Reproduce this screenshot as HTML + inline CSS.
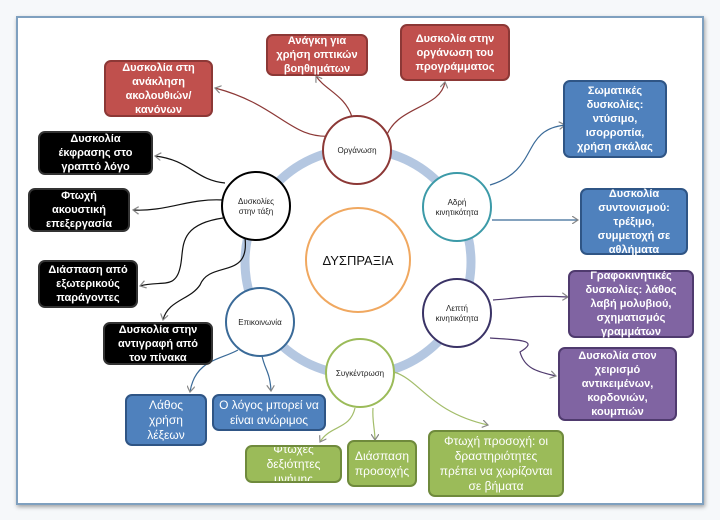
<!DOCTYPE html>
<html><head><meta charset="utf-8"><style>
html,body{margin:0;padding:0;background:#f6f8fa;width:720px;height:520px;overflow:hidden}
.frame{position:absolute;left:16px;top:16px;width:684px;height:485px;background:#fff;border:2px solid #7fa0bf;box-shadow:1px 2px 4px rgba(0,0,0,.35)}
.b{position:absolute;box-sizing:border-box;border-radius:7px;color:#fff;font:bold 11px/14px "Liberation Sans","DejaVu Sans",sans-serif;display:flex;align-items:center;justify-content:center;text-align:center;padding:2px 5px;border:2px solid}
.r{background:#c0504d;border-color:#8c3836}
.u{background:#4f81bd;border-color:#2f5585}
.p{background:#8064a2;border-color:#4f3a6e}
.g{background:#9bbb59;border-color:#6f8a3c;font-weight:normal;font-size:12px;line-height:15px}
.k{background:#000;border-color:#333}
.n{font-weight:normal;font-size:12px;line-height:15px}
svg{position:absolute;left:0;top:0}
.t{font-family:"Liberation Sans","DejaVu Sans",sans-serif;font-size:8px;fill:#222;text-anchor:middle}
</style></head><body>
<div class="frame"></div>
<svg width="720" height="520">
<defs><marker id="a" markerWidth="8" markerHeight="8" refX="6" refY="4" orient="auto" markerUnits="userSpaceOnUse"><path d="M0,0 L6,4 L0,8" fill="none" stroke="#888" stroke-width="1.2"/></marker></defs>
<circle cx="358" cy="262" r="113" fill="none" stroke="#b4c7e1" stroke-width="9"/>
<g fill="none" stroke-width="1.2" marker-end="url(#a)">
<path d="M333,136 C290,140 280,105 215,88" stroke="#8c3836"/>
<path d="M352,117 C345,95 325,90 316,76" stroke="#8c3836"/>
<path d="M385,140 C395,105 440,110 445,82" stroke="#8c3836"/>
<path d="M490,185 C540,170 520,130 565,125" stroke="#3a6a98"/>
<path d="M492,220 L578,220" stroke="#3a6a98"/>
<path d="M493,300 C520,298 530,295 568,297" stroke="#4f3a6e"/>
<path d="M490,338 C520,340 540,340 520,352 C525,370 540,372 556,376" stroke="#4f3a6e"/>
<path d="M394,372 C420,380 430,412 488,425" stroke="#a3bd6a"/>
<path d="M373,408 C372,420 375,430 375,440" stroke="#a3bd6a"/>
<path d="M355,408 C350,430 330,425 320,442" stroke="#a3bd6a"/>
<path d="M262,356 C265,370 270,372 271,391" stroke="#3a6a98"/>
<path d="M238,350 C220,360 195,360 190,392" stroke="#3a6a98"/>
<path d="M225,183 C195,180 190,160 155,156" stroke="#111"/>
<path d="M223,200 C190,198 165,212 133,210" stroke="#111"/>
<path d="M223,218 C175,225 185,250 180,268 C175,290 160,280 140,286" stroke="#111"/>
<path d="M245,238 C250,280 210,260 200,285 C190,300 168,300 163,320" stroke="#111"/>
</g>
<circle cx="358" cy="260" r="52" fill="#fff" stroke="#f0a860" stroke-width="2"/>
<text x="358" y="265" style="font:13px 'Liberation Sans',sans-serif;text-anchor:middle;fill:#111">ΔΥΣΠΡΑΞΙΑ</text>
<circle cx="357" cy="150" r="34" fill="#fff" stroke="#8c3836" stroke-width="2"/>
<text class="t" x="357" y="153">Οργάνωση</text>
<circle cx="457" cy="207" r="34" fill="#fff" stroke="#3c9aa8" stroke-width="2"/>
<text class="t" x="457" y="205">Αδρή</text><text class="t" x="457" y="215">κινητικότητα</text>
<circle cx="457" cy="313" r="34" fill="#fff" stroke="#3a3366" stroke-width="2"/>
<text class="t" x="457" y="311">Λεπτή</text><text class="t" x="457" y="321">κινητικότητα</text>
<circle cx="360" cy="373" r="34" fill="#fff" stroke="#9bbb59" stroke-width="2"/>
<text class="t" x="360" y="376">Συγκέντρωση</text>
<circle cx="260" cy="322" r="34" fill="#fff" stroke="#3a6a98" stroke-width="2"/>
<text class="t" x="260" y="325">Επικοινωνία</text>
<circle cx="256" cy="206" r="34" fill="#fff" stroke="#000" stroke-width="2"/>
<text class="t" x="256" y="204">Δυσκολίες</text><text class="t" x="256" y="214">στην τάξη</text>
</svg>
<div class="b r" style="left:104px;top:60px;width:109px;height:57px">Δυσκολία στη ανάκληση ακολουθιών/ κανόνων</div>
<div class="b r" style="left:266px;top:34px;width:102px;height:42px">Ανάγκη για χρήση οπτικών βοηθημάτων</div>
<div class="b r" style="left:400px;top:24px;width:110px;height:57px">Δυσκολία στην οργάνωση του προγράμματος</div>
<div class="b u" style="left:563px;top:80px;width:104px;height:78px">Σωματικές δυσκολίες: ντύσιμο, ισορροπία, χρήση σκάλας</div>
<div class="b u" style="left:580px;top:188px;width:108px;height:67px">Δυσκολία συντονισμού: τρέξιμο, συμμετοχή σε αθλήματα</div>
<div class="b p" style="left:568px;top:270px;width:126px;height:68px">Γραφοκινητικές δυσκολίες: λάθος λαβή μολυβιού, σχηματισμός γραμμάτων</div>
<div class="b p" style="left:558px;top:347px;width:119px;height:74px">Δυσκολία στον χειρισμό αντικειμένων, κορδονιών, κουμπιών</div>
<div class="b g" style="left:428px;top:430px;width:136px;height:67px">Φτωχή προσοχή: οι δραστηριότητες πρέπει να χωρίζονται σε βήματα</div>
<div class="b g" style="left:347px;top:440px;width:70px;height:47px">Διάσπαση προσοχής</div>
<div class="b g" style="left:245px;top:445px;width:97px;height:38px;overflow:hidden">Φτωχές δεξιότητες μνήμης</div>
<div class="b u n" style="left:125px;top:394px;width:82px;height:52px;padding:2px 14px">Λάθος χρήση λέξεων</div>
<div class="b u n" style="left:212px;top:394px;width:114px;height:37px">Ο λόγος μπορεί να είναι ανώριμος</div>
<div class="b k" style="left:38px;top:131px;width:115px;height:44px">Δυσκολία έκφρασης στο γραπτό λόγο</div>
<div class="b k" style="left:28px;top:188px;width:102px;height:44px">Φτωχή ακουστική επεξεργασία</div>
<div class="b k" style="left:38px;top:260px;width:100px;height:48px">Διάσπαση από εξωτερικούς παράγοντες</div>
<div class="b k" style="left:103px;top:322px;width:110px;height:43px">Δυσκολία στην αντιγραφή από τον πίνακα</div>
</body></html>
